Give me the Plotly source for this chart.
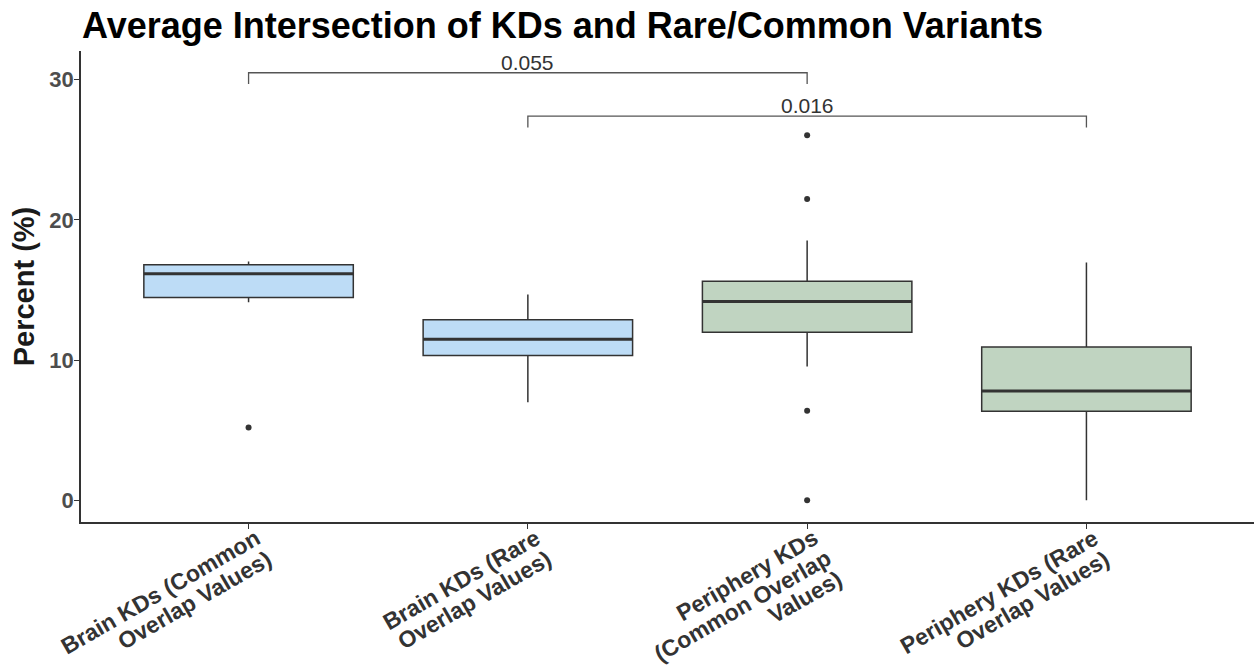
import math
import plotly.graph_objects as go

category_keys = ["brain_common", "brain_rare", "periphery_common", "periphery_rare"]
tick_label_lines = [
    ["Brain KDs (Common", "Overlap Values)"],
    ["Brain KDs (Rare", "Overlap Values)"],
    ["Periphery KDs", "(Common Overlap", "Values)"],
    ["Periphery KDs (Rare", "Overlap Values)"],
]
q1 = [14.46, 10.32, 11.99, 6.35]
median = [16.16, 11.49, 14.18, 7.80]
q3 = [16.80, 12.87, 15.63, 10.94]
lower_whisker = [14.13, 6.99, 9.54, 0.0]
upper_whisker = [17.04, 14.68, 18.54, 16.96]
outlier_cat = [0, 2, 2, 2, 2]
outlier_val = [5.2, 26.04, 21.5, 6.39, 0.0]
fill_colors = ["#BDDCF6", "#BDDCF6", "#C0D4C1", "#C0D4C1"]

bracket_from = [0, 1]
bracket_to = [2, 3]
bracket_y = [30.5, 27.4]
bracket_label = ["0.055", "0.016"]
tip = 0.8
box_width = 0.75

FONT = "Liberation Sans, Arial, sans-serif"
LABEL_ANGLE = 30
LABEL_SIZE = 23
LABEL_LH = 24

fig = go.Figure()
for i, c in enumerate(category_keys):
    fig.add_trace(go.Box(
        x=[c], q1=[q1[i]], median=[median[i]], q3=[q3[i]],
        lowerfence=[lower_whisker[i]], upperfence=[upper_whisker[i]],
        fillcolor=fill_colors[i], line=dict(color="#333333", width=1.5),
        whiskerwidth=0, width=box_width, boxpoints=False, showlegend=False,
        hoverinfo="skip",
    ))

fig.add_trace(go.Scatter(
    x=[category_keys[k] for k in outlier_cat], y=outlier_val, mode="markers",
    marker=dict(color="#333333", size=6), showlegend=False, hoverinfo="skip",
))

shapes = []
for i in range(len(category_keys)):
    shapes.append(dict(type="line", xref="x", yref="y",
                       x0=i - box_width / 2, x1=i + box_width / 2,
                       y0=median[i], y1=median[i],
                       line=dict(color="#333333", width=3)))
annotations = []
for a, b, y, lab in zip(bracket_from, bracket_to, bracket_y, bracket_label):
    shapes.append(dict(type="path", xref="x", yref="y",
                       path=f"M {a},{y - tip} L {a},{y} L {b},{y} L {b},{y - tip}",
                       line=dict(color="#555555", width=1.3)))
    annotations.append(dict(x=(a + b) / 2, y=y, xref="x", yref="y", text=lab,
                            showarrow=False, yanchor="bottom", yshift=-3,
                            font=dict(size=21, color="#333333", family=FONT)))

# rotated, right-aligned multi-line category labels (ggplot angle=30, hjust=1)
s = math.sin(math.radians(LABEL_ANGLE))
co = math.cos(math.radians(LABEL_ANGLE))
for i, lines in enumerate(tick_label_lines):
    for j, line in enumerate(lines):
        annotations.append(dict(
            x=category_keys[i], y=0, xref="x", yref="paper", text=line,
            showarrow=False, textangle=-LABEL_ANGLE,
            xanchor="right", yanchor="top",
            xshift=17 + j * LABEL_LH * s, yshift=-1 - j * LABEL_LH * co,
            borderpad=0,
            font=dict(size=LABEL_SIZE, color="#333333", family=FONT, weight="bold"),
        ))

fig.update_layout(
    width=1254, height=672,
    margin=dict(l=81, r=0, t=51, b=150),
    plot_bgcolor="white", paper_bgcolor="white",
    title=dict(text="<b>Average Intersection of KDs and Rare/Common Variants</b>",
               x=82 / 1254, xanchor="left", xref="container",
               y=1 - 25 / 672, yanchor="middle", yref="container",
               font=dict(size=36, color="black", family=FONT)),
    shapes=shapes, annotations=annotations,
    xaxis=dict(
        type="category", categoryorder="array", categoryarray=category_keys,
        range=[-0.6, 3.6], showgrid=False, zeroline=False,
        automargin=False, showticklabels=False,
        showline=True, linecolor="#333333", linewidth=1.5,
        ticks="outside", ticklen=5, tickcolor="#333333", tickwidth=1.2,
    ),
    yaxis=dict(
        range=[-1.55, 32.05], showgrid=False, zeroline=False,
        automargin=False,
        showline=True, linecolor="#333333", linewidth=1.5,
        ticks="outside", ticklen=5, tickcolor="#333333", tickwidth=1.2,
        tickvals=[0, 10, 20, 30], ticklabelstandoff=-4,
        tickfont=dict(size=22, color="#4D4D4D", family=FONT, weight="bold"),
        title=dict(text="<b>Percent (%)</b>", standoff=6,
                   font=dict(size=29, color="#1a1a1a", family=FONT)),
    ),
)

fig.write_html("out.html")
